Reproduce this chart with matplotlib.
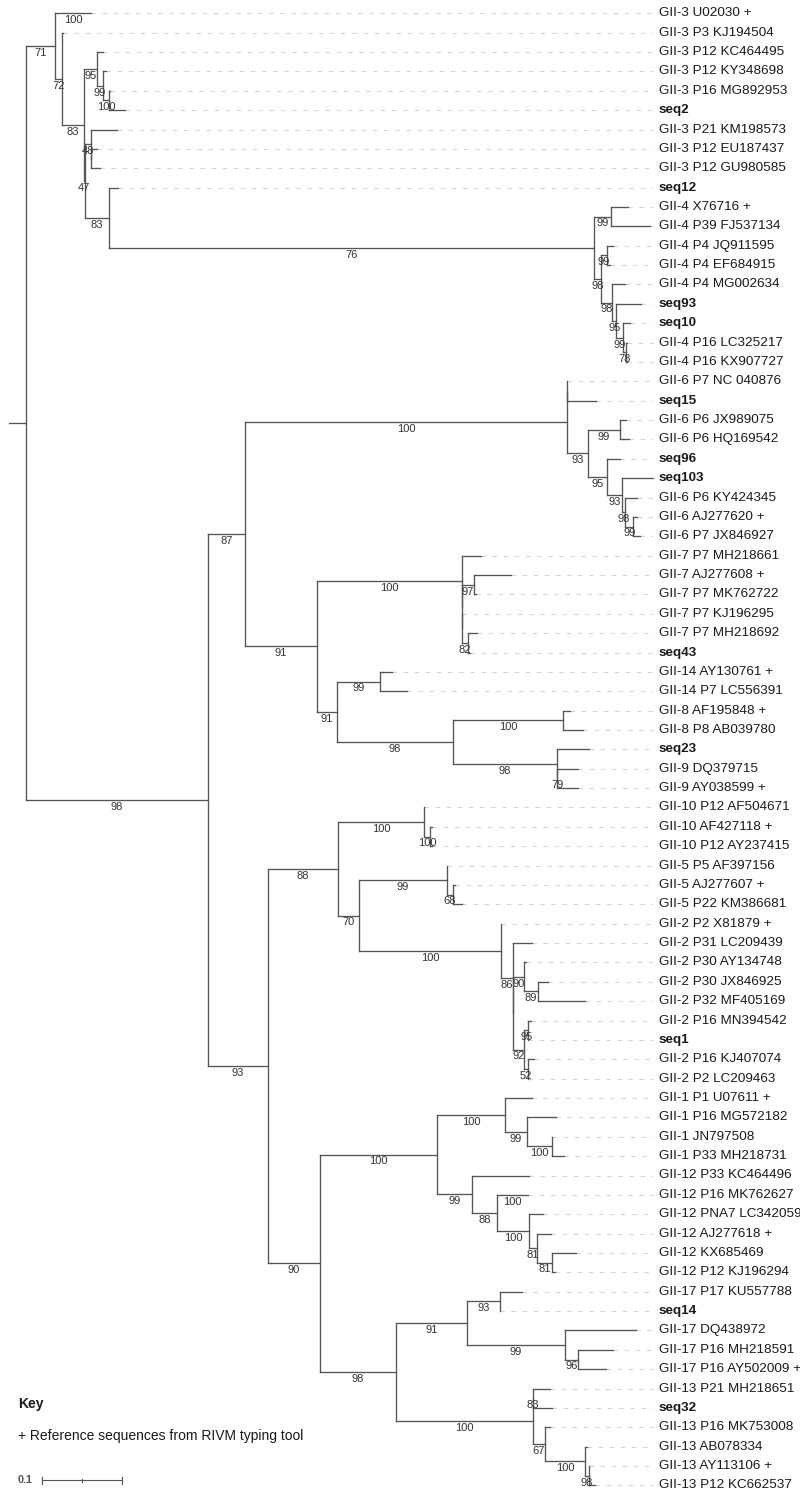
import matplotlib
matplotlib.use("Agg")
import matplotlib.pyplot as plt
from matplotlib.collections import LineCollection

plt.rcParams['font.family'] = ['Liberation Sans', 'DejaVu Sans']

# ---------------- data ----------------
leaf_names = [
    "GII-3 U02030 +", "GII-3 P3 KJ194504", "GII-3 P12 KC464495", "GII-3 P12 KY348698",
    "GII-3 P16 MG892953", "seq2", "GII-3 P21 KM198573", "GII-3 P12 EU187437",
    "GII-3 P12 GU980585", "seq12", "GII-4 X76716 +", "GII-4 P39 FJ537134",
    "GII-4 P4 JQ911595", "GII-4 P4 EF684915", "GII-4 P4 MG002634", "seq93", "seq10",
    "GII-4 P16 LC325217", "GII-4 P16 KX907727", "GII-6 P7 NC 040876", "seq15",
    "GII-6 P6 JX989075", "GII-6 P6 HQ169542", "seq96", "seq103", "GII-6 P6 KY424345",
    "GII-6 AJ277620 +", "GII-6 P7 JX846927", "GII-7 P7 MH218661", "GII-7 AJ277608 +",
    "GII-7 P7 MK762722", "GII-7 P7 KJ196295", "GII-7 P7 MH218692", "seq43",
    "GII-14 AY130761 +", "GII-14 P7 LC556391", "GII-8 AF195848 +", "GII-8 P8 AB039780",
    "seq23", "GII-9 DQ379715", "GII-9 AY038599 +", "GII-10 P12 AF504671",
    "GII-10 AF427118 +", "GII-10 P12 AY237415", "GII-5 P5 AF397156", "GII-5 AJ277607 +",
    "GII-5 P22 KM386681", "GII-2 P2 X81879 +", "GII-2 P31 LC209439", "GII-2 P30 AY134748",
    "GII-2 P30 JX846925", "GII-2 P32 MF405169", "GII-2 P16 MN394542", "seq1",
    "GII-2 P16 KJ407074", "GII-2 P2 LC209463", "GII-1 P1 U07611 +", "GII-1 P16 MG572182",
    "GII-1 JN797508", "GII-1 P33 MH218731", "GII-12 P33 KC464496", "GII-12 P16 MK762627",
    "GII-12 PNA7 LC342059", "GII-12 AJ277618 +", "GII-12 KX685469", "GII-12 P12 KJ196294",
    "GII-17 P17 KU557788", "seq14", "GII-17 DQ438972", "GII-17 P16 MH218591",
    "GII-17 P16 AY502009 +", "GII-13 P21 MH218651", "seq32", "GII-13 P16 MK753008",
    "GII-13 AB078334", "GII-13 AY113106 +", "GII-13 P12 KC662537",
]

# Newick pieces (leaf tokens are indices into leaf_names; internal labels = bootstrap)
gii3_a = "(2:0.0075,(3:0.0038,(4:0.0013,5:0.02)100:0.0075)99:0.0075)95:0.0163"
gii3_b = "(6:0.0325,(7:0.0075,8:0.0113):0)48:0.0081"
gii4 = ("((10:0.0213,11:0.0488)99:0.0213,((12:0.0075,13:0.0038)99:0.0075,"
        "(14:0.0163,(15:0.0313,(16:0.0088,(17:0.0013,18:0.0013)78:0.0038)99:0.0088)95:0.005)98:0.0138)98:0.0088)76:0.6063")
clade_a = f"(0:0.045,(1:0.0013,({gii3_a},({gii3_b},(9:0.0113,{gii4})83:0.0306)47:0.0006)83:0.0275)72:0.0088)71:0.0363"

gii6 = ("((19:0,20:0.0363):0,((21:0.0075,22:0.0113)99:0.04,(23:0.0163,(24:0.0388,"
        "(25:0.015,(26:0.005,27:0.0088)99:0.01)98:0.0038)93:0.0188)95:0.0238)93:0.0263)100:0.4025")
gii7 = "(28:0.0238,((29:0.0463,30:0.0025)97:0.015,(31:0,(32:0.0113,33:0.0025)82:0.0075):0):0)100:0.1813"
gii14 = "(34:0.015,35:0.0338)99:0.0538"
gii8_9 = "((36:0.0088,37:0.025)100:0.1375,(38:0.04,(39:0.0263,40:0.0263)79:0)98:0.13)98:0.145"
clade_c1 = f"({gii6},({gii7},({gii14},{gii8_9})91:0.025)91:0.09)87:0.0463"

gii10 = "(41:0,(42:0.0025,43:0.0025)100:0.0075)100:0.1075"
gii5 = "(44:0,(45:0.0025,46:0.0113)68:0.0075)99:0.11"
gii2 = ("(47:0,(48:0.0238,((49:0.0025,(50:0.0125,51:0.0588)89:0.0175)90:0.0141,"
        "((52:0.0034,53:0)95:0.0054,(54:0.0071,55:0)52:0.0054)92:0.0141):0)86:0.0146)100:0.1775")
gii1 = "(56:0.0338,(57:0.0363,(58:0,59:0.015)100:0.0313)99:0.0275)100:0.085"
gii12 = ("(60:0.0713,(61:0.0388,(62:0.0175,(63:0.0175,(64:0.03,65:0.0038)81:0.0188)81:0.01)100:0.04)88:0.0313)99:0.0438")
gii17 = "((66:0.0275,67:0)93:0.0413,(68:0.0894,(69:0.0438,70:0.035)96:0.0169)99:0.1219)91:0.0888"
gii13 = "((71:0.0213,72:0.0238)83:0,(73:0.006,(74:0.0025,(75:0,76:0.0075)98:0.005)100:0.05)67:0.015)100:0.1713"
clade_c19 = (f"((({gii10},({gii5},{gii2})70:0.0263)88:0.0875),"
             f"(({gii1},{gii12})100:0.1463,({gii17},{gii13})98:0.095)90:0.065)93:0.075")
tree_newick = f"({clade_a},({clade_c1},{clade_c19})98:0.2275);"

tip_support = {0: "100", 61: "100"}   # support values printed on terminal branches
root_stub = 0.0213
scale_bar_length = 0.1
scale_bar_label = "0.1"
key_title = "Key"
key_text = "+ Reference sequences from RIVM typing tool"


# ---------------- parse / layout ----------------
def parse_newick(s):
    pos = 0

    def node():
        nonlocal pos
        n = {"children": [], "label": "", "length": 0.0}
        if s[pos] == "(":
            pos += 1
            while True:
                n["children"].append(node())
                if s[pos] == ",":
                    pos += 1
                    continue
                if s[pos] == ")":
                    pos += 1
                    break
        start = pos
        while pos < len(s) and s[pos] not in ":,();":
            pos += 1
        n["label"] = s[start:pos]
        if pos < len(s) and s[pos] == ":":
            pos += 1
            start = pos
            while s[pos] not in ",();":
                pos += 1
            n["length"] = float(s[start:pos])
        return n

    return node()


root = parse_newick(tree_newick)


def layout(n, x0):
    n["x"] = x0 + n["length"]
    if n["children"]:
        for c in n["children"]:
            layout(c, n["x"])
        n["y"] = (n["children"][0]["y"] + n["children"][-1]["y"]) / 2
    else:
        n["leaf"] = int(n["label"])
        n["y"] = float(n["leaf"])


root["length"] = 0.0
layout(root, 0.0)

# pixel geometry of the reference: 80 px per 0.1 units, root at px 26, leaves 19.37 px apart
PX = 800.0
X0 = 26.0
Y0 = 13.3
DY = 19.37
W, H = 800, 1500

fig = plt.figure(figsize=(W / 100, H / 100), dpi=100)
ax = fig.add_axes([0, 0, 1, 1])
ax.set_xlim(-X0 / PX, (W - X0) / PX)
ax.set_ylim((H - Y0) / DY, -Y0 / DY)
ax.axis("off")

branch_color = "#555555"
segs = []
tips = []
sup = []


def walk(n, parent):
    if parent is not None:
        segs.append([(parent["x"], n["y"]), (n["x"], n["y"])])
    if n["children"]:
        segs.append([(n["x"], n["children"][0]["y"]), (n["x"], n["children"][-1]["y"])])
        if parent is not None and n["label"]:
            sup.append(((parent["x"] + n["x"]) / 2, n["y"], n["label"]))
        for c in n["children"]:
            walk(c, n)
    else:
        tips.append(n)
        if n["leaf"] in tip_support:
            sup.append(((parent["x"] + n["x"]) / 2, n["y"], tip_support[n["leaf"]]))


walk(root, None)
segs.append([(-root_stub, root["y"]), (0, root["y"])])
ax.add_collection(LineCollection(segs, colors=branch_color, linewidths=0.95, capstyle="projecting"))

dash_end = (653 - X0) / PX
label_x = (659 - X0) / PX
for t in tips:
    ax.plot([t["x"], dash_end], [t["y"], t["y"]], color="#d6d6d6", lw=0.8,
            linestyle=(0, (4, 6)), zorder=0)
    name = leaf_names[t["leaf"]]
    ax.text(label_x, t["y"], name, ha="left", va="center", fontsize=9.7,
            color="#1a1a1a", fontweight="bold" if name.startswith("seq") else "normal")

off = 6.8 / DY
for x, y, s in sup:
    ax.text(x, y + off, s, ha="center", va="center", fontsize=8.0, color="#333333")

# key + scale bar
fig.text(18 / W, 1 - 1404 / H, key_title, fontsize=10, fontweight="bold", color="#1a1a1a",
         ha="left", va="center")
fig.text(18 / W, 1 - 1436 / H, key_text, fontsize=10.0, color="#1a1a1a", ha="left", va="center")

sb_y = (1480 - Y0) / DY
sb_x0 = (42.3 - X0) / PX
ax.plot([sb_x0, sb_x0 + scale_bar_length], [sb_y, sb_y], color="#555555", lw=0.8)
for xx, h in [(sb_x0, 3.5), (sb_x0 + scale_bar_length, 3.5), (sb_x0 + scale_bar_length / 2, 1.5)]:
    ax.plot([xx, xx], [sb_y - h / DY, sb_y + h / DY], color="#555555", lw=0.8)
fig.text(18 / W, 1 - 1480 / H, scale_bar_label, fontsize=7.8, fontweight="bold", color="#555555",
         ha="left", va="center")

fig.savefig("out.png", dpi=100)
